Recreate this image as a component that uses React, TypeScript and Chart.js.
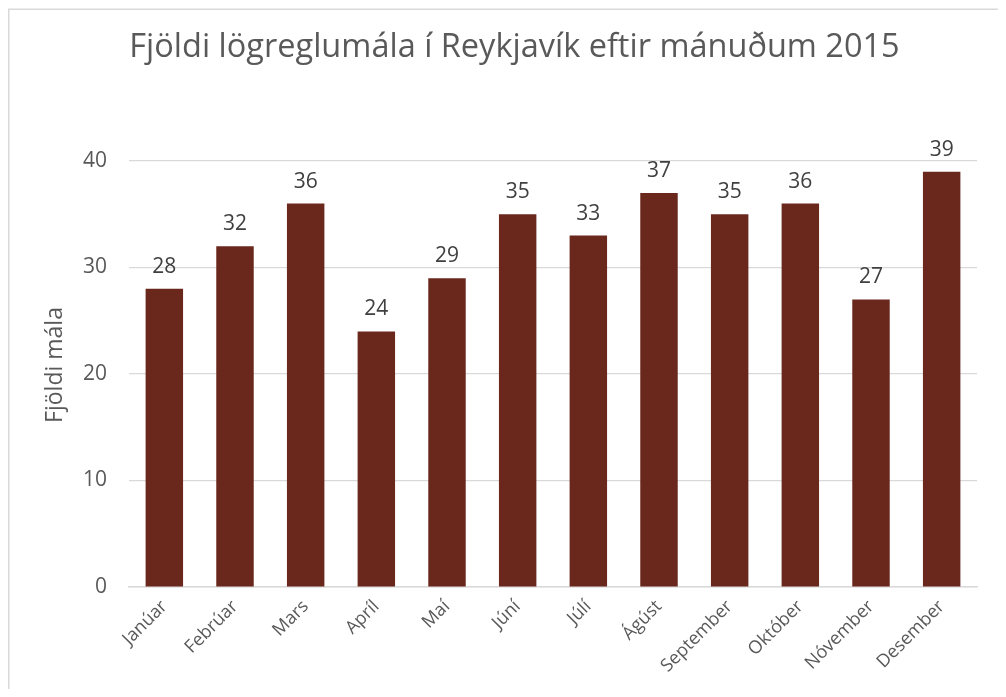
import React, { useEffect, useRef } from "react";
import { Chart, registerables } from "chart.js";

Chart.register(...registerables);

const chartTitle = "Fjöldi lögreglumála í Reykjavík eftir mánuðum 2015";
const yAxisTitle = "Fjöldi mála";
const months = ["Janúar", "Febrúar", "Mars", "Apríl", "Maí", "Júní", "Júlí", "Ágúst", "September", "Október", "Nóvember", "Desember"];
const cases = [28, 32, 36, 24, 29, 35, 33, 37, 35, 36, 27, 39];
const yMin = 0;
const yMax = 40;
const yStep = 10;

const FONT = "'Open Sans', 'Noto Sans', sans-serif";
const TEXT = "#595959";
const LABEL = "#404040";
const GRID = "#d9d9d9";
const BAR = "#6A271C";

const decorPlugin = {
  id: "decor",
  beforeDraw(chart: any) {
    const { ctx, width, height } = chart;
    ctx.save();
    ctx.fillStyle = "#ffffff";
    ctx.fillRect(0, 0, width, height);
    ctx.strokeStyle = GRID;
    ctx.lineWidth = 1.5;
    ctx.beginPath();
    ctx.moveTo(0.75, height);
    ctx.lineTo(0.75, 1.25);
    ctx.lineTo(width, 1.25);
    ctx.stroke();
    ctx.restore();
  },
  afterDatasetsDraw(chart: any) {
    const { ctx } = chart;
    const meta = chart.getDatasetMeta(0);
    const data = chart.data.datasets[0].data;
    ctx.save();
    ctx.font = `21px ${FONT}`;
    ctx.fillStyle = LABEL;
    ctx.textAlign = "center";
    ctx.textBaseline = "alphabetic";
    meta.data.forEach((bar: any, i: number) => {
      ctx.fillText(String(data[i]), bar.x, bar.y - 16);
    });
    ctx.restore();
  },
  afterDraw(chart: any) {
    const { ctx, width, chartArea } = chart;
    ctx.save();
    ctx.font = `32.5px ${FONT}`;
    ctx.fillStyle = TEXT;
    ctx.textAlign = "center";
    ctx.textBaseline = "alphabetic";
    ctx.fillText(chartTitle, width / 2, 49);
    ctx.restore();

    // y-axis title
    ctx.save();
    ctx.font = `23px ${FONT}`;
    ctx.fillStyle = TEXT;
    ctx.textAlign = "center";
    ctx.textBaseline = "middle";
    ctx.translate(47, (chartArea.top + chartArea.bottom) / 2 - 9);
    ctx.rotate(-Math.PI / 2);
    ctx.fillText(yAxisTitle, 0, 0);
    ctx.restore();
  },
};

export default function App() {
  const canvasRef = useRef<HTMLCanvasElement | null>(null);

  useEffect(() => {
    const canvas = canvasRef.current;
    if (!canvas) return;
    const chart = new Chart(canvas, {
      type: "bar",
      data: {
        labels: months,
        datasets: [
          {
            label: yAxisTitle,
            data: cases,
            backgroundColor: BAR,
            borderWidth: 0,
            categoryPercentage: 1,
            barPercentage: 0.53,
          },
        ],
      },
      options: {
        animation: false,
        responsive: false,
        maintainAspectRatio: false,
        layout: { padding: { top: 153, right: 44, left: 0, bottom: 0 } },
        plugins: {
          legend: { display: false },
          title: { display: false },
          tooltip: { enabled: false },
        },
        scales: {
          x: {
            grid: { display: false, drawTicks: false },
            border: { display: true, color: GRID, width: 1.5 },
            ticks: {
              color: TEXT,
              font: { family: FONT, size: 18 },
              minRotation: 45,
              maxRotation: 45,
              autoSkip: false,
              padding: 9,
            },
            afterFit: (scale: any) => {
              scale.height = 110;
            },
          },
          y: {
            min: yMin,
            max: yMax,
            grid: { color: GRID, lineWidth: 1.2, drawTicks: false },
            border: { display: false },
            ticks: {
              stepSize: yStep,
              color: TEXT,
              font: { family: FONT, size: 21 },
              padding: 22,
            },
            title: { display: false },
            afterFit: (scale: any) => {
              scale.width = 121;
            },
          },
        },
      },
      plugins: [decorPlugin],
    });
    return () => chart.destroy();
  }, []);

  return (
    <div style={{ width: 998, height: 681, overflow: "hidden" }}>
      <canvas ref={canvasRef} width={1013} height={689} style={{ display: "block", width: 1013, height: 689 }} />
    </div>
  );
}
